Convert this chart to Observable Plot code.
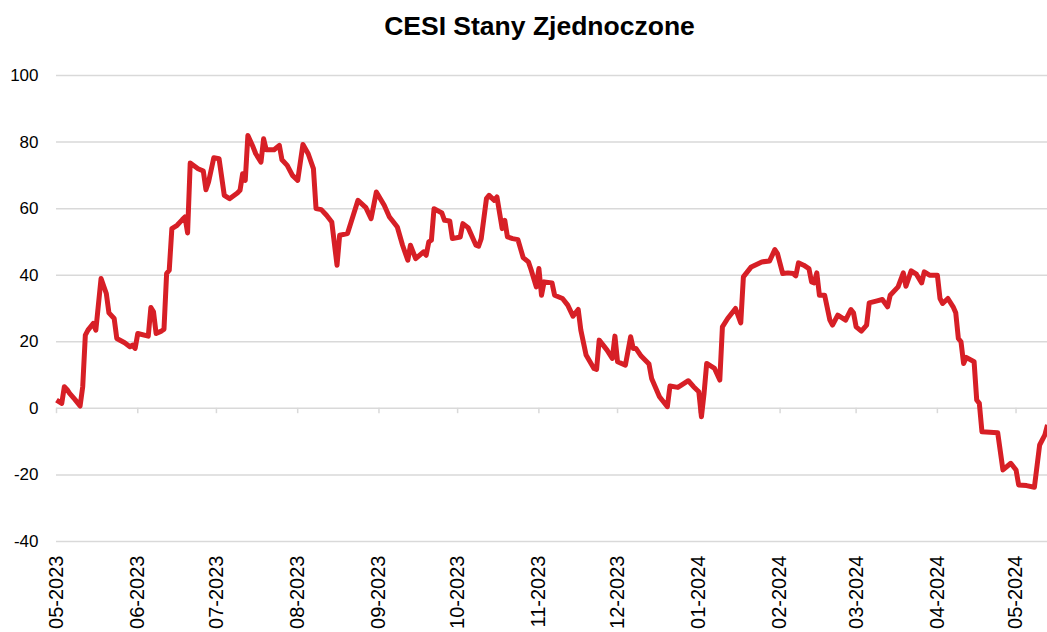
<!DOCTYPE html>
<html>
<head>
<meta charset="utf-8">
<script src="https://cdn.jsdelivr.net/npm/d3@7"></script>
<script src="https://cdn.jsdelivr.net/npm/@observablehq/plot@0.6"></script>
<style>
  html, body { margin: 0; padding: 0; background: #fff; }
  #title {
    width: 1047px; height: 50px; box-sizing: border-box;
    padding-top: 13px; padding-left: 32px;
    font-family: "Liberation Sans", Arial, sans-serif;
    font-weight: bold; font-size: 26.5px; line-height: 26.5px;
    text-align: center; color: #000; white-space: nowrap;
  }
  #chart svg { display: block; }
</style>
</head>
<body>
<div id="title">CESI Stany Zjednoczone</div>
<div id="chart"></div>
<script>
const dates = [
"2023-05-01","2023-05-03","2023-05-04","2023-05-05","2023-05-06","2023-05-08","2023-05-10","2023-05-11","2023-05-12","2023-05-13",
"2023-05-15","2023-05-16","2023-05-18","2023-05-20","2023-05-21","2023-05-23","2023-05-24","2023-05-27","2023-05-29","2023-05-30",
"2023-05-31","2023-06-01","2023-06-05","2023-06-06","2023-06-07","2023-06-08","2023-06-10","2023-06-11","2023-06-12","2023-06-13",
"2023-06-14","2023-06-16","2023-06-18","2023-06-19","2023-06-20","2023-06-21","2023-06-24","2023-06-26","2023-06-27","2023-06-28",
"2023-06-30","2023-07-02","2023-07-04","2023-07-06","2023-07-09","2023-07-10","2023-07-11","2023-07-12","2023-07-13","2023-07-15",
"2023-07-16","2023-07-18","2023-07-19","2023-07-20","2023-07-23","2023-07-25","2023-07-26","2023-07-28","2023-07-30","2023-08-01",
"2023-08-03","2023-08-05","2023-08-07","2023-08-08","2023-08-10","2023-08-12","2023-08-14","2023-08-16","2023-08-17","2023-08-20",
"2023-08-24","2023-08-27","2023-08-29","2023-08-31","2023-09-03","2023-09-05","2023-09-06","2023-09-08","2023-09-10","2023-09-12",
"2023-09-13","2023-09-15","2023-09-18","2023-09-19","2023-09-20","2023-09-21","2023-09-22","2023-09-25","2023-09-26","2023-09-28",
"2023-09-29","2023-10-02","2023-10-03","2023-10-05","2023-10-08","2023-10-09","2023-10-10","2023-10-12","2023-10-13","2023-10-15",
"2023-10-16","2023-10-18","2023-10-19","2023-10-20","2023-10-22","2023-10-24","2023-10-26","2023-10-28","2023-10-29","2023-10-31",
"2023-11-01","2023-11-02","2023-11-03","2023-11-06","2023-11-07","2023-11-10","2023-11-12","2023-11-14","2023-11-16","2023-11-17",
"2023-11-19","2023-11-22","2023-11-23","2023-11-24","2023-11-27","2023-11-29","2023-11-30","2023-12-01","2023-12-04","2023-12-06",
"2023-12-07","2023-12-08","2023-12-10","2023-12-13","2023-12-14","2023-12-17","2023-12-20","2023-12-21","2023-12-24","2023-12-28",
"2023-12-30","2024-01-01","2024-01-02","2024-01-03","2024-01-04","2024-01-07","2024-01-09","2024-01-10","2024-01-12","2024-01-15",
"2024-01-17","2024-01-18","2024-01-21","2024-01-25","2024-01-28","2024-01-30","2024-01-31","2024-02-02","2024-02-04","2024-02-06",
"2024-02-07","2024-02-08","2024-02-10","2024-02-12","2024-02-13","2024-02-14","2024-02-15","2024-02-16","2024-02-18","2024-02-20",
"2024-02-21","2024-02-23","2024-02-26","2024-02-28","2024-02-29","2024-03-01","2024-03-03","2024-03-05","2024-03-06","2024-03-09",
"2024-03-11","2024-03-13","2024-03-14","2024-03-17","2024-03-19","2024-03-20","2024-03-22","2024-03-24","2024-03-26","2024-03-27",
"2024-03-29","2024-04-01","2024-04-02","2024-04-03","2024-04-05","2024-04-07","2024-04-08","2024-04-09","2024-04-10","2024-04-11",
"2024-04-12","2024-04-15","2024-04-16","2024-04-17","2024-04-18","2024-04-24","2024-04-26","2024-04-29","2024-05-01","2024-05-02",
"2024-05-05","2024-05-08","2024-05-10","2024-05-12","2024-05-13"
];
const values = [
2.5,1.5,6.5,5.7,4.5,2.7,0.7,6.5,22,23.5,
25.5,23.5,39,34.5,28.7,27,21,19.7,18.5,19,
18,22.5,21.7,30.3,29,22.5,23.2,23.8,40.5,41.5,
54,55,56.7,57.5,52.7,73.7,72,71.3,65.7,68,
75.3,75,64,63,64.7,65.5,70.5,68.5,82,78.5,
76.5,74,81,77.7,77.7,79,74.7,73,70,68.5,
79.3,76.5,72,60,59.7,58,56,43,52,52.5,
62.5,60.3,57,65,61,57.5,56.5,54.5,49,44.5,
49,45,47,46,50,50.5,60,58.7,56.5,56.3,
51,51.5,55.5,54.3,49,48.7,51,63,64,62.5,
63.5,54,56.5,51.5,51,50.7,45.3,44,41.7,36.5,
42,34,38,37.7,34,33,31,27.7,29.7,23.5,
16,12,11.7,20.5,17.5,15,21.7,14,13,21.5,
18,18,15.7,13.3,9,3.5,0.5,6.7,6.3,8.3,
6.5,5,-2.5,4.5,13.5,12,8.5,24.5,27,30,
25.7,39.5,42.5,44,44.3,47.7,46.5,40.5,40.7,40.5,
39.8,43.7,43,42,38,37.7,40.7,34,34,26.5,
25,28,26.5,29.7,28.7,24.5,23.2,25,31.7,32.3,
32.7,30.5,34,36.5,40.7,36.7,41.3,40.3,37.7,41,
40,40,33,31.5,33,30.5,28.7,21,20,13.5,
15.3,14,2.5,1.5,-7,-7.3,-18.5,-16.5,-18.5,-23,
-23.2,-23.7,-11,-8,-5
];
const tickDates = ["2023-05-01","2023-06-01","2023-07-01","2023-08-01","2023-09-01","2023-10-01","2023-11-01","2023-12-01","2024-01-01","2024-02-01","2024-03-01","2024-04-01","2024-05-01"];
const tickLabels = ["05-2023","06-2023","07-2023","08-2023","09-2023","10-2023","11-2023","12-2023","01-2024","02-2024","03-2024","04-2024","05-2024"];
const yTicks = [-40,-20,0,20,40,60,80,100];
const xDomain = ["2023-05-01","2024-05-13"];

const data = dates.map((d, i) => ({date: new Date(d), value: values[i]}));
const ticks = tickDates.map(d => new Date(d));
const labelOf = new Map(ticks.map((d, i) => [d.getTime(), tickLabels[i]]));

const chart = Plot.plot({
  width: 1047,
  height: 582,
  marginTop: 25,
  marginBottom: 91,
  marginLeft: 56,
  marginRight: 0,
  x: {type: "utc", domain: xDomain.map(d => new Date(d))},
  y: {domain: [-40, 100]},
  style: {fontFamily: "'Liberation Sans', Arial, sans-serif", fontSize: "16px", color: "#000", background: "#fff", overflow: "visible"},
  marks: [
    Plot.gridY(yTicks, {stroke: "#d9d9d9", strokeOpacity: 1, strokeWidth: 1.5}),
    Plot.ruleX(ticks, {y1: 0, y2: -1.6, stroke: "#d9d9d9", strokeWidth: 1.5}),
    Plot.axisY(yTicks, {tickSize: 0, tickPadding: 18, label: null, fontSize: 17, tickFormat: d => String(d)}),
    Plot.axisX(ticks, {anchor: "bottom", tickSize: 0, tickPadding: 14, tickRotate: -90, label: null, fontSize: 20, tickFormat: d => labelOf.get(d.getTime())}),
    Plot.line(data, {x: "date", y: "value", stroke: "#d71f26", strokeWidth: 5, strokeLinejoin: "round", strokeLinecap: "butt"})
  ]
});
document.getElementById("chart").appendChild(chart);
</script>
</body>
</html>
